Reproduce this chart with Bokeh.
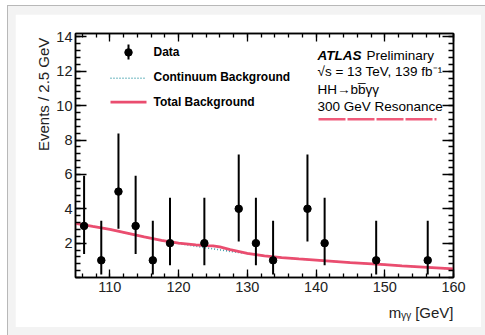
import numpy as np
from bokeh.plotting import figure
from bokeh.models import Label, LinearAxis, FixedTicker, Range1d, Title
from bokeh.layouts import column
from bokeh.embed import file_html
from bokeh.resources import INLINE

# ---------------- data ----------------
data_x = [106.25, 108.75, 111.25, 113.75, 116.25, 118.75, 123.75, 128.75,
          131.25, 133.75, 138.75, 141.25, 148.75, 156.25]
data_y = [3, 1, 5, 3, 1, 2, 2, 4, 2, 1, 4, 2, 1, 1]
err_lo = [1.37, 0.17, 2.84, 1.37, 0.17, 0.71, 0.71, 2.09, 0.71, 0.17, 2.09, 0.71, 0.17, 0.17]
err_hi = [5.92, 3.30, 8.38, 5.92, 3.30, 4.64, 4.64, 7.16, 4.64, 3.30, 7.16, 4.64, 3.30, 3.30]

bkg_x = [105, 107.5, 110, 112.5, 115, 117.5, 120, 122.5, 124, 125, 126, 127.5, 130,
         132.5, 135, 137.5, 140, 142.5, 145, 147.5, 150, 152.5, 155, 157.5, 160]
total_bkg = [3.15, 2.97, 2.8, 2.58, 2.36, 2.16, 2.0, 1.9, 1.86, 1.84, 1.78, 1.62, 1.41,
             1.26, 1.16, 1.08, 1.01, 0.94, 0.87, 0.81, 0.75, 0.68, 0.62, 0.56, 0.5]
cont_bkg = [3.15, 2.97, 2.8, 2.58, 2.36, 2.16, 1.98, 1.82, 1.73, 1.67, 1.61, 1.52, 1.39,
            1.26, 1.16, 1.08, 1.01, 0.94, 0.87, 0.81, 0.75, 0.68, 0.62, 0.56, 0.5]

x_ticks = [110, 120, 130, 140, 150, 160]
y_ticks = [2, 4, 6, 8, 10, 12, 14]

X0, X1 = 105, 160
Y0, Y1 = 0, 14.2

RED = "#ea4d6f"
TEAL = "#3f9eab"
FONT = "Liberation Sans"

# frame geometry (pixels inside the figure)
FL, FT, FW, FH = 60, 19, 378, 245
PX0, PY0 = 15, 14  # page offset of figure
LBL_DY = 5  # empirical label correction


def dx(px):  # page x -> data x
    return X0 + (px - PX0 - FL) / FW * (X1 - X0)


def dy(py):  # page y -> data y
    return Y1 - (py - PY0 - FT) / FH * (Y1 - Y0)


def sx(px):  # page x -> frame screen x
    return px - PX0 - FL


def sy(py):  # page y -> frame screen y (up from frame bottom)
    return (PY0 + FT + FH) - py + LBL_DY


p = figure(width=466, height=313, output_backend="svg", toolbar_location=None,
           x_range=Range1d(X0, X1), y_range=Range1d(Y0, Y1),
           min_border_left=FL, min_border_right=28, min_border_top=FT, min_border_bottom=49,
           border_fill_color="white", background_fill_color="white")
p.grid.visible = False
p.outline_line_color = "black"
p.outline_line_width = 1.5

xt = FixedTicker(ticks=x_ticks, minor_ticks=list(np.arange(106, 161, 2)))
yt = FixedTicker(ticks=y_ticks, minor_ticks=list(np.round(np.arange(0, 14.2, 0.4), 2)))


def style_axis(ax, major, minor, labels=True):
    ax.axis_line_color = "black"
    ax.axis_line_width = 1.5
    ax.major_tick_in = major
    ax.major_tick_out = 0
    ax.minor_tick_in = minor
    ax.minor_tick_out = 0
    ax.major_tick_line_width = 1.3
    ax.minor_tick_line_width = 1.3
    ax.major_tick_line_color = "black"
    ax.minor_tick_line_color = "black"
    ax.major_label_text_font = FONT
    ax.major_label_text_color = "#222222"
    if labels:
        ax.major_label_text_font_size = "14.5px"
    else:
        ax.major_label_text_font_size = "1px"
        ax.major_label_text_alpha = 0
        ax.major_label_standoff = 0


p.xaxis.ticker = xt
p.yaxis.ticker = yt
style_axis(p.xaxis[0], 8, 4)
style_axis(p.yaxis[0], 11, 5)
p.xaxis.major_label_standoff = 4
p.yaxis.major_label_standoff = 3

top_ax = LinearAxis(ticker=xt)
style_axis(top_ax, 8, 4, labels=False)
p.add_layout(top_ax, "above")
right_ax = LinearAxis(ticker=yt)
style_axis(right_ax, 11, 5, labels=False)
p.add_layout(right_ax, "right")

# axis titles (ROOT style: aligned at the axis end)
p.add_layout(Title(text="m\u1d67\u1d67 [GeV]", align="right",
                   text_font="Liberation Sans, DejaVu Sans",
                   text_font_size="15px", text_font_style="normal", text_color="#222222",
                   standoff=14), "below")
p.add_layout(Title(text="Events /  2.5 GeV", align="right", text_font=FONT,
                   text_font_size="15px", text_font_style="normal", text_color="#222222",
                   standoff=4), "left")

# curves
p.line(bkg_x, cont_bkg, color=TEAL, line_width=1.6, line_dash="1 2")
p.line(bkg_x, total_bkg, color=RED, line_width=2.8)

# data
p.segment(x0=data_x, y0=err_lo, x1=data_x, y1=err_hi, color="black", line_width=2)
p.scatter(data_x, data_y, size=7.5, color="black")

# legend (manual)
p.segment(x0=[dx(128)], y0=[dy(44)], x1=[dx(128)], y1=[dy(59)], color="black", line_width=2)
p.scatter([dx(128)], [dy(52)], size=7.5, color="black")
p.line([dx(110), dx(146)], [dy(78), dy(78)], color=TEAL, line_width=1.6, line_dash="1 2")
p.line([dx(110), dx(146)], [dy(102), dy(102)], color=RED, line_width=2.8)
for txt, by in [("Data", 57), ("Continuum Background", 82.5), ("Total Background", 107)]:
    p.add_layout(Label(x=sx(153), y=sy(by), x_units="screen", y_units="screen", text=txt,
                       text_font=FONT, text_font_size="12px", text_font_style="bold",
                       text_baseline="alphabetic", text_align="left", text_color="black"))

# ATLAS label
p.add_layout(Label(x=sx(317), y=sy(61), x_units="screen", y_units="screen", text="ATLAS",
                   text_font=FONT, text_font_size="13.5px", text_font_style="bold italic",
                   text_baseline="alphabetic", text_color="black"))
for txt, bx, by in [("Preliminary", 366, 61), ("\u221as = 13 TeV, 139 fb\u207b\u00b9", 317, 77),
                    ("HH\u2192bb\u0305\u03b3\u03b3", 317, 95), ("300 GeV Resonance", 317, 112)]:
    p.add_layout(Label(x=sx(bx), y=sy(by), x_units="screen", y_units="screen", text=txt,
                       text_font=FONT, text_font_size="13.5px",
                       text_baseline="alphabetic", text_color="black"))
p.line([dx(318), dx(436)], [dy(119), dy(119)], color="#ef5a7a", line_width=2.5, line_dash="27 2")

layout = column(p, styles={"margin-left": "7px", "margin-top": "5px",
                           "border-left": "1px solid #b8b8b8", "border-top": "1px solid #b8b8b8",
                           "background-color": "#f3f3f3",
                           "padding": "8px 4px 8px 7px"})

open("out.html", "w").write(file_html(layout, INLINE))
